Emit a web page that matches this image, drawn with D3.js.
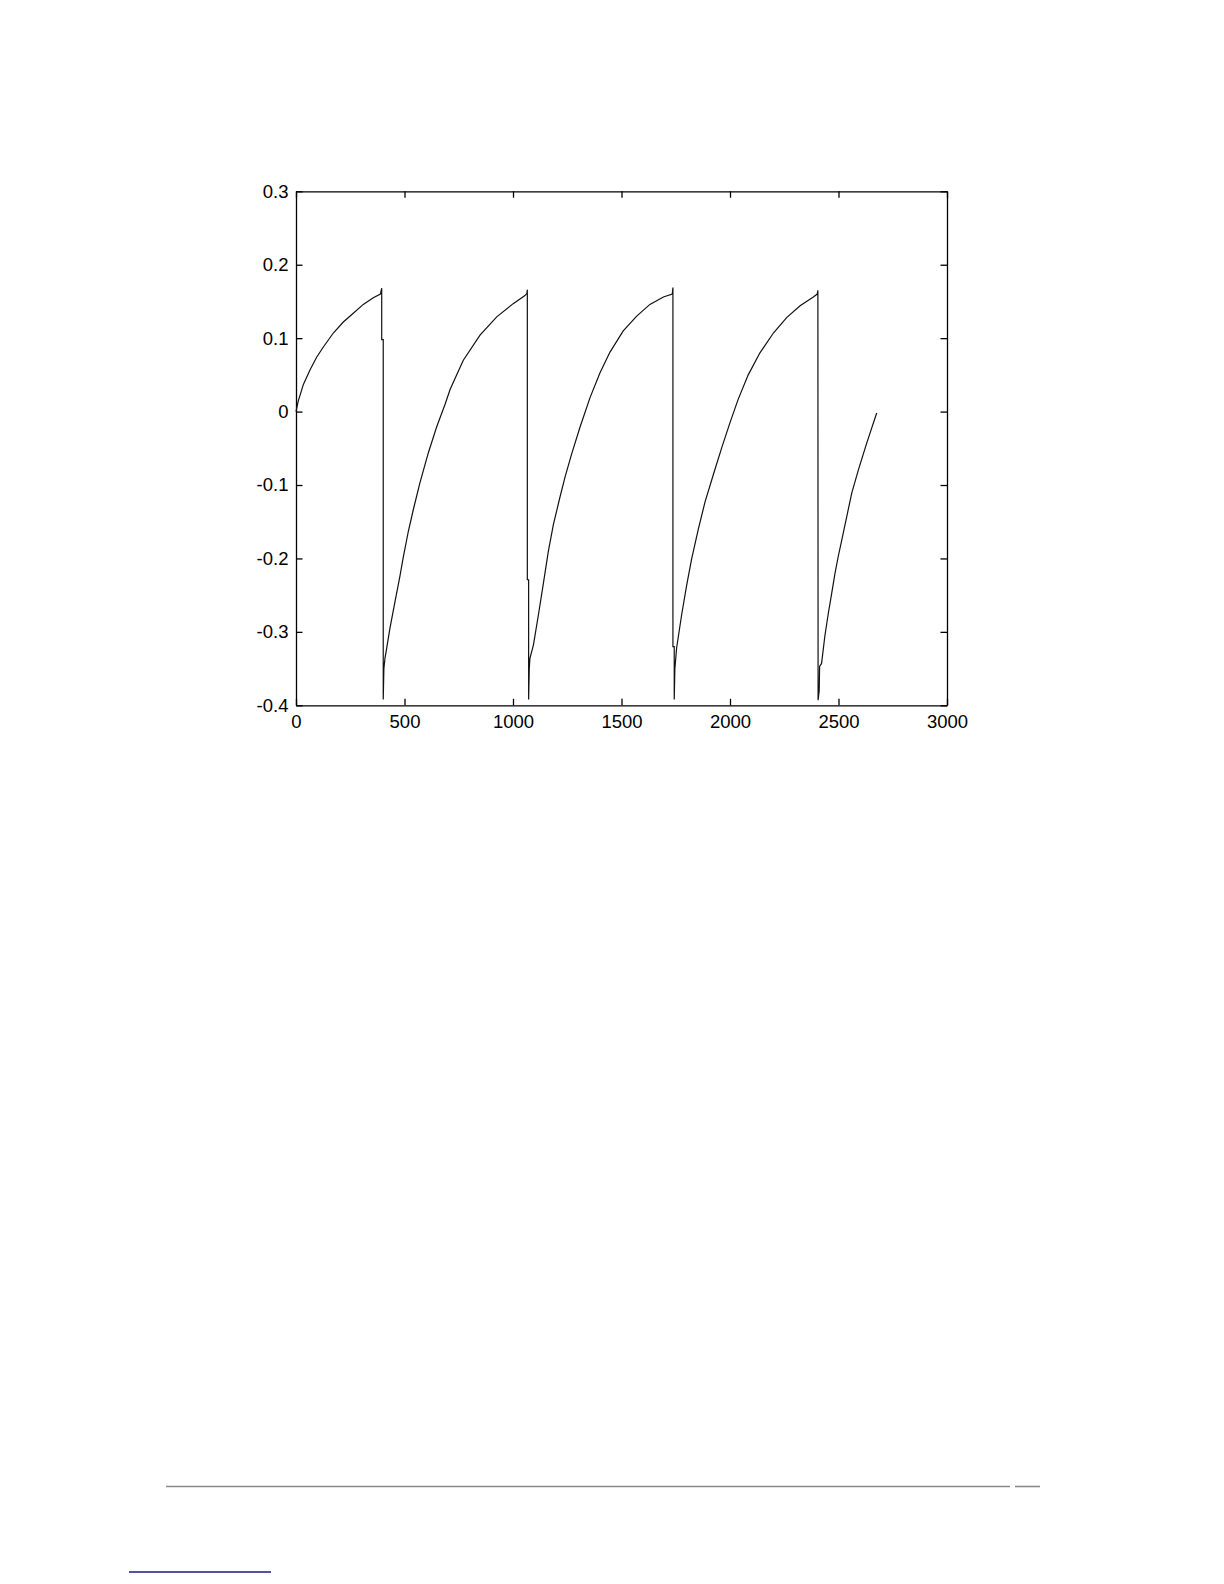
<!DOCTYPE html>
<html>
<head>
<meta charset="utf-8">
<script src="https://cdn.jsdelivr.net/npm/d3@7"></script>
<style>
  html, body { margin: 0; padding: 0; background: #fff; }
  svg { display: block; }
</style>
</head>
<body>
<script>
// ---- data ----
const xTicks = [0, 500, 1000, 1500, 2000, 2500, 3000];
const xTickLabels = ["0", "500", "1000", "1500", "2000", "2500", "3000"];
const yTicks = [0.3, 0.2, 0.1, 0, -0.1, -0.2, -0.3, -0.4];
const yTickLabels = ["0.3", "0.2", "0.1", "0", "-0.1", "-0.2", "-0.3", "-0.4"];

const sampleX = [
  0, 10, 34, 65, 95, 126, 172, 218, 264, 310, 356, 389,
  395, 395, 402, 402, 405,
  410, 418, 433, 456, 479, 494, 517, 541, 571, 610, 648, 687, 710, 771, 848, 925, 1001, 1055, 1064,
  1066, 1066, 1072, 1072, 1075,
  1078, 1094, 1117, 1140, 1163, 1186, 1216, 1240, 1270, 1309, 1355, 1401, 1447, 1508, 1570, 1631, 1693, 1734,
  1737, 1737, 1743, 1743, 1746,
  1750, 1754, 1777, 1800, 1823, 1854, 1885, 1923, 1962, 2000, 2038, 2084, 2138, 2200, 2261, 2323, 2384, 2402,
  2405, 2406, 2411, 2413,
  2422, 2437, 2453, 2469, 2484, 2499, 2515, 2538, 2561, 2592, 2630, 2676
];
const sampleY = [
  0, 0.014, 0.037, 0.057, 0.074, 0.088, 0.107, 0.122, 0.134, 0.146, 0.155, 0.160,
  0.168, 0.098, 0.098, -0.392, -0.350,
  -0.336, -0.322, -0.295, -0.259, -0.224, -0.199, -0.164, -0.133, -0.097, -0.056, -0.021, 0.010, 0.030, 0.070, 0.104, 0.129, 0.147, 0.158, 0.161,
  0.166, -0.229, -0.229, -0.392, -0.350,
  -0.336, -0.318, -0.277, -0.234, -0.190, -0.154, -0.117, -0.089, -0.058, -0.021, 0.019, 0.053, 0.081, 0.110, 0.130, 0.146, 0.156, 0.160,
  0.169, -0.320, -0.320, -0.392, -0.350,
  -0.336, -0.322, -0.277, -0.237, -0.201, -0.160, -0.123, -0.086, -0.049, -0.015, 0.017, 0.050, 0.080, 0.107, 0.128, 0.144, 0.156, 0.160,
  0.165, -0.393, -0.380, -0.347,
  -0.343, -0.306, -0.275, -0.247, -0.220, -0.197, -0.175, -0.143, -0.111, -0.079, -0.043, -0.002
];

// ---- drawing ----
const W = 1224, H = 1584;
const plot = { left: 296, right: 947, top: 191.3, bottom: 705.3 };

const svg = d3.select("body").append("svg")
  .attr("width", W).attr("height", H)
  .attr("viewBox", `0 0 ${W} ${H}`);

svg.append("rect").attr("width", W).attr("height", H).attr("fill", "#fff");

const x = d3.scaleLinear().domain([0, 3000]).range([plot.left, plot.right]);
const y = d3.scaleLinear().domain([-0.4, 0.3]).range([plot.bottom, plot.top]);

const fontFamily = "'Liberation Sans', Arial, 'DejaVu Sans', sans-serif";
const tickLen = 6.5;

function styleAxis(g) {
  g.select(".domain").attr("stroke", "#000").attr("stroke-width", 1.3);
  g.selectAll(".tick line").attr("stroke", "#000").attr("stroke-width", 1.3);
  g.selectAll(".tick text")
    .attr("fill", "#000")
    .attr("font-family", fontFamily)
    .attr("font-size", "18.5px");
}

// bottom axis with labels
svg.append("g")
  .attr("transform", `translate(0,${plot.bottom})`)
  .call(d3.axisBottom(x).tickValues(xTicks)
    .tickFormat((d, i) => xTickLabels[i])
    .tickSizeInner(-tickLen).tickSizeOuter(0).tickPadding(10))
  .call(styleAxis);

// top axis (ticks only)
svg.append("g")
  .attr("transform", `translate(0,${plot.top})`)
  .call(d3.axisTop(x).tickValues(xTicks).tickFormat("")
    .tickSizeInner(-tickLen).tickSizeOuter(0))
  .call(styleAxis);

// left axis with labels
svg.append("g")
  .attr("transform", `translate(${plot.left},0)`)
  .call(d3.axisLeft(y).tickValues(yTicks)
    .tickFormat((d, i) => yTickLabels[i])
    .tickSizeInner(-tickLen).tickSizeOuter(0).tickPadding(7.5))
  .call(styleAxis);

// right axis (ticks only)
svg.append("g")
  .attr("transform", `translate(${plot.right},0)`)
  .call(d3.axisRight(y).tickValues(yTicks).tickFormat("")
    .tickSizeInner(-tickLen).tickSizeOuter(0))
  .call(styleAxis);

// the series
const pts = sampleX.map((v, i) => [v, sampleY[i]]);
const line = d3.line().x(d => x(d[0])).y(d => y(d[1])).curve(d3.curveLinear);
svg.append("path")
  .datum(pts)
  .attr("d", line)
  .attr("fill", "none")
  .attr("stroke", "#111")
  .attr("stroke-width", 1.2)
  .attr("stroke-linejoin", "miter");

// page decorations (footer rules)
svg.append("line").attr("x1", 166).attr("x2", 1010).attr("y1", 1486.5).attr("y2", 1486.5)
  .attr("stroke", "#8a8a8a").attr("stroke-width", 1.6);
svg.append("line").attr("x1", 1015).attr("x2", 1040).attr("y1", 1486.5).attr("y2", 1486.5)
  .attr("stroke", "#8a8a8a").attr("stroke-width", 1.6);
svg.append("line").attr("x1", 129).attr("x2", 271).attr("y1", 1572).attr("y2", 1572)
  .attr("stroke", "#1a1a8c").attr("stroke-width", 1.6);
</script>
</body>
</html>
